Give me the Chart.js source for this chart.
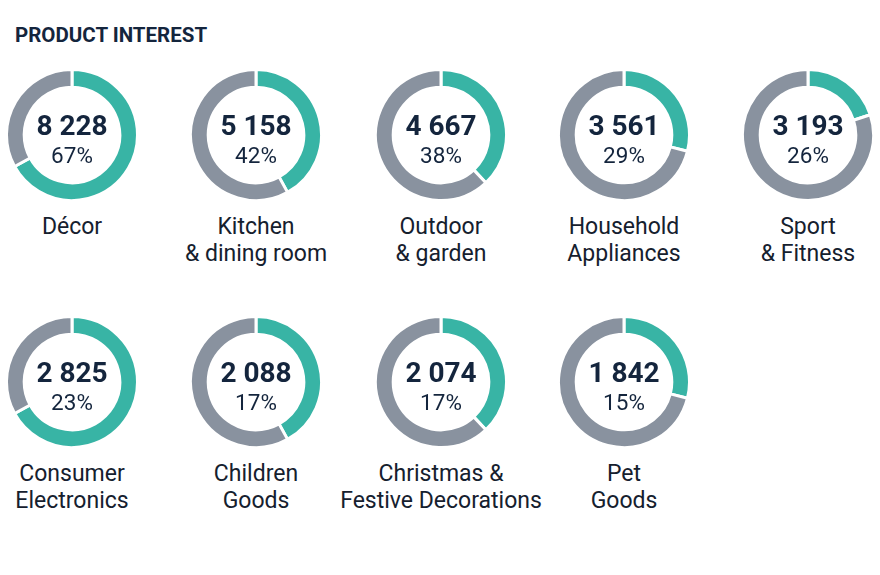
<!DOCTYPE html>
<html>
<head>
<meta charset="utf-8">
<script src="https://cdn.jsdelivr.net/npm/chart.js@4.4.1/dist/chart.umd.min.js"></script>
<style>
  html, body { margin: 0; padding: 0; background: #fff; }
  body { width: 880px; height: 575px; position: relative; overflow: hidden; font-family: Roboto, "Noto Sans", sans-serif; color: #14253d; }
  .title { position: absolute; left: 15px; top: 22px; font-size: 20.5px; font-weight: 700; line-height: 26px; }
  .tile { position: absolute; width: 134px; height: 134px; }
  .num, .pct, .label { position: absolute; text-align: center; white-space: nowrap; }
  .num { font-size: 28px; font-weight: 700; line-height: 28px; width: 160px; }
  .pct { font-size: 22.5px; font-weight: 400; line-height: 23px; width: 160px; }
  .label { font-size: 23px; line-height: 27px; width: 260px; color: #15202e; }
</style>
</head>
<body>
<div class="title">PRODUCT INTEREST</div>
<script>
// Data
const categories = [
  ["Décor"],
  ["Kitchen", "& dining room"],
  ["Outdoor", "& garden"],
  ["Household", "Appliances"],
  ["Sport", "& Fitness"],
  ["Consumer", "Electronics"],
  ["Children", "Goods"],
  ["Christmas &", "Festive Decorations"],
  ["Pet", "Goods"]
]
const counts = [8228, 5158, 4667, 3561, 3193, 2825, 2088, 2074, 1842]
const shares = [67, 42, 38, 29, 26, 23, 17, 17, 15]
// arc sizes (%) as they are drawn in the reference rings
const ringShares = [67, 42, 38, 29, 20, 67, 42, 38, 29]

const TEAL = "#38b4a5"
const GRAY = "#89929f"

// grid layout
const colX = [72, 256, 441, 624, 808]
const rowY = [135, 382]
const SIZE = 134

const fmt = (n) => String(n).replace(/\B(?=(\d{3})+(?!\d))/g, " ")

categories.forEach((lines, i) => {
  const cx = colX[i % 5]
  const cy = rowY[Math.floor(i / 5)]

  // ring
  const tile = document.createElement("div")
  tile.className = "tile"
  tile.style.left = cx - SIZE / 2 + "px"
  tile.style.top = cy - SIZE / 2 + "px"
  const canvas = document.createElement("canvas")
  canvas.width = SIZE
  canvas.height = SIZE
  tile.appendChild(canvas)
  document.body.appendChild(tile)

  new Chart(canvas.getContext("2d"), {
    type: "doughnut",
    data: {
      labels: ["Interest", "Other"],
      datasets: [{
        data: [ringShares[i], 100 - ringShares[i]],
        backgroundColor: [TEAL, GRAY],
        borderColor: "#ffffff",
        borderWidth: 3,
      }],
    },
    options: {
      responsive: false,
      animation: false,
      cutout: "73%",
      events: [],
      plugins: { legend: { display: false }, tooltip: { enabled: false } },
    },
  })

  // centre texts
  const num = document.createElement("div")
  num.className = "num"
  num.textContent = fmt(counts[i])
  num.style.left = cx - 80 + "px"
  num.style.top = cy - 135 + 111.5 + "px"
  document.body.appendChild(num)

  const pct = document.createElement("div")
  pct.className = "pct"
  pct.textContent = shares[i] + "%"
  pct.style.left = cx - 80 + "px"
  pct.style.top = cy - 135 + 143.5 + "px"
  document.body.appendChild(pct)

  // category label
  const label = document.createElement("div")
  label.className = "label"
  label.innerHTML = lines.join("<br>")
  label.style.left = cx - 130 + "px"
  label.style.top = cy - 135 + 212.6 + "px"
  document.body.appendChild(label)
})
</script>
</body>
</html>
